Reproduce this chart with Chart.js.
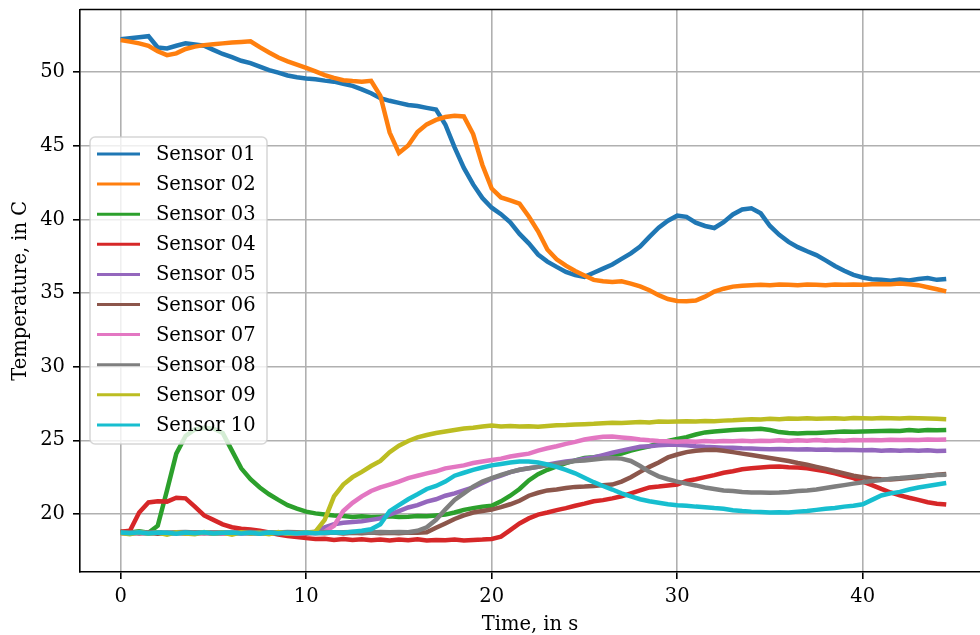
<!DOCTYPE html>
<html>
<head>
<meta charset="utf-8">
<script src="https://cdn.jsdelivr.net/npm/chart.js@4.4.0/dist/chart.umd.min.js"></script>
<style>
    html, body { margin: 0; padding: 0; background: #fff; }
    canvas { display: block; }
</style>
</head>
<body>
<canvas id="graficoSensores" width="980" height="635"></canvas>
<script>
// amostragem a cada 0.5 s, de 0 a 44.5 s
const PASSO = 0.5;
const N_AMOSTRAS = 90;
const tempos = Array.from({ length: N_AMOSTRAS }, (_, i) => i * PASSO);

const nomesSensores = ['Sensor 01', 'Sensor 02', 'Sensor 03', 'Sensor 04', 'Sensor 05',
                       'Sensor 06', 'Sensor 07', 'Sensor 08', 'Sensor 09', 'Sensor 10'];
const cores = ['#1f77b4', '#ff7f0e', '#2ca02c', '#d62728', '#9467bd',
               '#8c564b', '#e377c2', '#7f7f7f', '#bcbd22', '#17becf'];

const ticksX = [0, 10, 20, 30, 40];
const ticksY = [20, 25, 30, 35, 40, 45, 50];

const sensor01 = [
    52.24, 52.31, 52.38, 52.45, 51.68, 51.62, 51.80, 51.96, 51.88, 51.80,
    51.52, 51.24, 51.02, 50.78, 50.62, 50.38, 50.14, 49.97, 49.78, 49.66,
    49.58, 49.52, 49.43, 49.36, 49.22, 49.07, 48.84, 48.57, 48.24, 48.06,
    47.92, 47.78, 47.71, 47.58, 47.46, 46.45, 44.90, 43.50, 42.38, 41.46,
    40.80, 40.36, 39.80, 39.02, 38.38, 37.62, 37.14, 36.78, 36.44, 36.22,
    36.10, 36.38, 36.66, 36.94, 37.32, 37.70, 38.16, 38.82, 39.44, 39.92,
    40.26, 40.18, 39.78, 39.56, 39.42, 39.82, 40.34, 40.68, 40.76, 40.42,
    39.56, 38.96, 38.48, 38.12, 37.84, 37.58, 37.22, 36.84, 36.52, 36.24,
    36.06, 35.94, 35.90, 35.84, 35.92, 35.86, 35.96, 36.02, 35.90, 35.96
];
const sensor02 = [
    52.18, 52.08, 51.96, 51.80, 51.42, 51.16, 51.28, 51.58, 51.74, 51.84,
    51.90, 51.96, 52.02, 52.06, 52.10, 51.70, 51.34, 51.00, 50.74, 50.52,
    50.30, 50.06, 49.80, 49.62, 49.46, 49.40, 49.36, 49.42, 48.40, 45.90,
    44.52, 45.02, 45.94, 46.46, 46.76, 46.96, 47.04, 47.00, 45.80, 43.70,
    42.10, 41.50, 41.30, 41.08, 40.20, 39.20, 37.96, 37.30, 36.86, 36.50,
    36.20, 35.90, 35.80, 35.76, 35.80, 35.64, 35.46, 35.20, 34.86, 34.60,
    34.46, 34.44, 34.50, 34.76, 35.10, 35.30, 35.44, 35.50, 35.54, 35.56,
    35.54, 35.58, 35.56, 35.54, 35.58, 35.56, 35.54, 35.58, 35.56, 35.58,
    35.56, 35.60, 35.62, 35.60, 35.66, 35.60, 35.54, 35.40, 35.26, 35.12
];
const sensor03 = [
    18.80, 18.74, 18.82, 18.72, 19.20, 21.60, 24.10, 25.30, 25.74, 25.86,
    25.80, 25.50, 24.30, 23.10, 22.36, 21.80, 21.34, 20.96, 20.60, 20.36,
    20.16, 20.04, 19.96, 19.90, 19.86, 19.80, 19.84, 19.80, 19.82, 19.84,
    19.80, 19.82, 19.86, 19.84, 19.90, 19.96, 20.10, 20.28, 20.40, 20.50,
    20.56, 20.86, 21.24, 21.70, 22.28, 22.70, 23.00, 23.24, 23.46, 23.64,
    23.80, 23.86, 23.94, 24.00, 24.10, 24.30, 24.46, 24.60, 24.80, 24.96,
    25.10, 25.22, 25.40, 25.54, 25.60, 25.66, 25.70, 25.74, 25.76, 25.78,
    25.70, 25.56, 25.50, 25.46, 25.50, 25.50, 25.54, 25.56, 25.60, 25.58,
    25.60, 25.62, 25.64, 25.66, 25.64, 25.70, 25.66, 25.70, 25.68, 25.70
];
const sensor04 = [
    18.80, 18.86, 20.10, 20.78, 20.86, 20.84, 21.10, 21.06, 20.50, 19.90,
    19.60, 19.30, 19.10, 19.00, 18.94, 18.86, 18.74, 18.60, 18.50, 18.44,
    18.36, 18.30, 18.32, 18.24, 18.30, 18.24, 18.28, 18.22, 18.26, 18.20,
    18.26, 18.22, 18.28, 18.20, 18.24, 18.22, 18.26, 18.20, 18.24, 18.26,
    18.30, 18.46, 18.90, 19.36, 19.70, 19.96, 20.10, 20.26, 20.40, 20.56,
    20.70, 20.86, 20.94, 21.06, 21.20, 21.40, 21.60, 21.80, 21.86, 21.94,
    22.00, 22.24, 22.36, 22.50, 22.64, 22.80, 22.90, 23.04, 23.10, 23.16,
    23.20, 23.22, 23.18, 23.16, 23.10, 23.00, 22.90, 22.76, 22.60, 22.44,
    22.20, 21.96, 21.70, 21.46, 21.26, 21.10, 20.96, 20.80, 20.70, 20.64
];
const sensor05 = [
    18.72, 18.66, 18.74, 18.68, 18.72, 18.66, 18.70, 18.74, 18.68, 18.72,
    18.66, 18.70, 18.74, 18.68, 18.72, 18.66, 18.70, 18.74, 18.68, 18.72,
    18.70, 18.80, 19.10, 19.30, 19.40, 19.46, 19.50, 19.60, 19.70, 19.96,
    20.20, 20.44, 20.60, 20.84, 21.00, 21.24, 21.40, 21.60, 21.80, 22.10,
    22.40, 22.60, 22.84, 23.00, 23.10, 23.20, 23.34, 23.46, 23.56, 23.64,
    23.76, 23.84, 24.00, 24.16, 24.30, 24.44, 24.56, 24.60, 24.66, 24.70,
    24.70, 24.66, 24.60, 24.56, 24.54, 24.50, 24.50, 24.46, 24.44, 24.42,
    24.40, 24.42, 24.40, 24.38, 24.40, 24.36, 24.38, 24.34, 24.36, 24.34,
    24.32, 24.34, 24.30, 24.32, 24.30, 24.32, 24.30, 24.32, 24.28, 24.30
];
const sensor06 = [
    18.70, 18.74, 18.68, 18.72, 18.66, 18.72, 18.70, 18.68, 18.74, 18.70,
    18.72, 18.68, 18.70, 18.74, 18.68, 18.72, 18.70, 18.66, 18.72, 18.70,
    18.68, 18.72, 18.70, 18.74, 18.68, 18.72, 18.70, 18.74, 18.70, 18.72,
    18.70, 18.74, 18.72, 18.76, 19.06, 19.36, 19.66, 19.90, 20.10, 20.20,
    20.30, 20.46, 20.66, 20.90, 21.24, 21.44, 21.60, 21.66, 21.76, 21.84,
    21.86, 21.90, 21.96, 22.00, 22.20, 22.50, 22.86, 23.20, 23.50, 23.84,
    24.04, 24.20, 24.30, 24.34, 24.36, 24.30, 24.20, 24.10, 24.00, 23.90,
    23.80, 23.70, 23.60, 23.46, 23.34, 23.20, 23.06, 22.90, 22.76, 22.60,
    22.50, 22.40, 22.36, 22.34, 22.40, 22.44, 22.50, 22.60, 22.66, 22.72
];
const sensor07 = [
    18.70, 18.66, 18.72, 18.68, 18.74, 18.66, 18.70, 18.72, 18.66, 18.70,
    18.74, 18.68, 18.70, 18.66, 18.72, 18.70, 18.68, 18.74, 18.70, 18.66,
    18.72, 18.70, 18.80, 19.20, 20.20, 20.76, 21.20, 21.56, 21.80, 22.00,
    22.20, 22.44, 22.60, 22.76, 22.90, 23.10, 23.20, 23.30, 23.46, 23.56,
    23.66, 23.76, 23.90, 24.00, 24.10, 24.30, 24.46, 24.60, 24.76, 24.90,
    25.06, 25.16, 25.24, 25.26, 25.20, 25.14, 25.06, 25.00, 24.96, 24.94,
    24.90, 24.94, 24.90, 24.96, 24.92, 24.96, 24.94, 24.98, 24.94, 24.98,
    24.96, 25.00, 24.96, 25.00, 24.98, 25.02, 24.98, 25.00, 24.98, 25.02,
    25.00, 25.02, 25.00, 25.04, 25.02, 25.04, 25.02, 25.06, 25.04, 25.06
];
const sensor08 = [
    18.76, 18.74, 18.78, 18.74, 18.76, 18.72, 18.76, 18.78, 18.74, 18.76,
    18.74, 18.76, 18.72, 18.76, 18.78, 18.74, 18.76, 18.74, 18.78, 18.76,
    18.74, 18.76, 18.78, 18.74, 18.76, 18.78, 18.76, 18.74, 18.78, 18.76,
    18.78, 18.76, 18.86, 19.10, 19.60, 20.30, 20.96, 21.40, 21.86, 22.20,
    22.44, 22.66, 22.84, 23.00, 23.10, 23.20, 23.30, 23.40, 23.50, 23.60,
    23.64, 23.70, 23.76, 23.80, 23.76, 23.60, 23.26, 22.86, 22.56, 22.36,
    22.20, 22.06, 21.94, 21.80, 21.70, 21.60, 21.56, 21.50, 21.46, 21.46,
    21.44, 21.46, 21.50, 21.56, 21.60, 21.66, 21.76, 21.86, 21.96, 22.06,
    22.16, 22.24, 22.30, 22.40, 22.44, 22.50, 22.56, 22.60, 22.64, 22.66
];
const sensor09 = [
    18.70, 18.62, 18.78, 18.66, 18.74, 18.60, 18.76, 18.68, 18.62, 18.78,
    18.66, 18.74, 18.60, 18.76, 18.68, 18.72, 18.62, 18.78, 18.66, 18.70,
    18.74, 18.80, 19.60, 21.20, 22.00, 22.50, 22.86, 23.26, 23.60, 24.20,
    24.64, 24.96, 25.20, 25.36, 25.50, 25.60, 25.70, 25.80, 25.86, 25.94,
    26.00, 25.94, 25.98, 25.94, 25.96, 25.92, 25.98, 26.02, 26.04, 26.08,
    26.10, 26.12, 26.16, 26.20, 26.18, 26.22, 26.24, 26.22, 26.28, 26.26,
    26.28, 26.30, 26.28, 26.32, 26.30, 26.34, 26.36, 26.40, 26.44, 26.42,
    26.46, 26.44, 26.48, 26.46, 26.50, 26.46, 26.48, 26.50, 26.46, 26.52,
    26.50, 26.48, 26.52, 26.50, 26.48, 26.52, 26.50, 26.48, 26.46, 26.44
];
const sensor10 = [
    18.74, 18.70, 18.76, 18.68, 18.74, 18.72, 18.66, 18.74, 18.70, 18.76,
    18.68, 18.72, 18.74, 18.68, 18.72, 18.66, 18.74, 18.70, 18.72, 18.68,
    18.74, 18.70, 18.72, 18.76, 18.72, 18.80, 18.86, 18.96, 19.30, 20.20,
    20.60, 21.00, 21.34, 21.70, 21.90, 22.20, 22.60, 22.80, 23.00, 23.16,
    23.30, 23.40, 23.50, 23.56, 23.56, 23.50, 23.36, 23.20, 23.00, 22.76,
    22.46, 22.16, 21.90, 21.66, 21.40, 21.20, 21.00, 20.86, 20.76, 20.66,
    20.60, 20.56, 20.50, 20.46, 20.40, 20.36, 20.26, 20.20, 20.16, 20.14,
    20.10, 20.12, 20.10, 20.16, 20.20, 20.28, 20.36, 20.40, 20.50, 20.56,
    20.66, 20.96, 21.26, 21.40, 21.50, 21.66, 21.80, 21.90, 22.00, 22.10
];

const series = [sensor01, sensor02, sensor03, sensor04, sensor05,
                sensor06, sensor07, sensor08, sensor09, sensor10];

const FONTE = 'DejaVu Serif';
const TAM_FONTE = 19.5;

// legenda no estilo matplotlib, desenhada por cima das linhas
const legendaPlugin = {
    id: 'legendaSensores',
    afterDatasetsDraw(chart) {
        const ctx = chart.ctx;
        const x0 = 90, y0 = 137, larg = 177, alt = 307;
        ctx.save();
        ctx.beginPath();
        ctx.roundRect(x0, y0, larg, alt, 5);
        ctx.fillStyle = 'rgba(255,255,255,0.8)';
        ctx.fill();
        ctx.lineWidth = 1.5;
        ctx.strokeStyle = 'rgba(204,204,204,0.8)';
        ctx.stroke();

        ctx.font = `${TAM_FONTE}px "${FONTE}"`;
        ctx.textBaseline = 'middle';
        ctx.textAlign = 'left';
        nomesSensores.forEach((nome, i) => {
            const y = 154 + i * 30.1;
            ctx.beginPath();
            ctx.moveTo(97, y);
            ctx.lineTo(140, y);
            ctx.strokeStyle = cores[i];
            ctx.lineWidth = 3;
            ctx.stroke();
            ctx.fillStyle = '#000';
            ctx.fillText(nome, 156, y + 1);
        });
        ctx.restore();
    },
    afterDraw(chart) {
        // borda superior do eixo
        const { ctx, chartArea } = chart;
        ctx.save();
        ctx.beginPath();
        ctx.moveTo(chartArea.left, chartArea.top);
        ctx.lineTo(chartArea.right, chartArea.top);
        ctx.strokeStyle = '#000';
        ctx.lineWidth = 1.6;
        ctx.stroke();
        ctx.restore();
    }
};

function montarGrafico() {
    const datasets = series.map((valores, i) => ({
        label: nomesSensores[i],
        data: valores.map((v, k) => ({ x: tempos[k], y: v })),
        borderColor: cores[i],
        backgroundColor: cores[i],
        borderWidth: 4.5,
        pointRadius: 0,
        tension: 0,
        order: series.length - i
    }));

    const fonteEixo = { family: FONTE, size: TAM_FONTE };

    new Chart(document.getElementById('graficoSensores').getContext('2d'), {
        type: 'line',
        data: { datasets },
        plugins: [legendaPlugin],
        options: {
            responsive: false,
            animation: false,
            devicePixelRatio: 1,
            layout: { padding: { top: 9.5, right: 0, bottom: 0, left: 0 } },
            plugins: { legend: { display: false }, tooltip: { enabled: false } },
            scales: {
                x: {
                    type: 'linear',
                    min: -2.19,
                    max: 46.32,
                    afterBuildTicks: scale => { scale.ticks = ticksX.map(v => ({ value: v })); },
                    afterFit: scale => { scale.height = 63; scale.paddingLeft = 0; scale.paddingRight = 0; },
                    grid: { color: '#b0b0b0', lineWidth: 1.6, tickColor: '#000', tickLength: 7, tickWidth: 1.6 },
                    border: { color: '#000', width: 1.6 },
                    ticks: { color: '#000', font: fonteEixo, padding: 6, maxRotation: 0 },
                    title: { display: true, text: 'Time, in s', color: '#000', font: { ...fonteEixo, lineHeight: 1.05 }, padding: { top: 0, bottom: 0 } }
                },
                y: {
                    type: 'linear',
                    min: 16.06,
                    max: 54.26,
                    afterBuildTicks: scale => { scale.ticks = ticksY.map(v => ({ value: v })); },
                    afterFit: scale => { scale.width = 80; scale.paddingTop = 0; scale.paddingBottom = 0; },
                    grid: { color: '#b0b0b0', lineWidth: 1.6, tickColor: '#000', tickLength: 7, tickWidth: 1.6 },
                    border: { color: '#000', width: 1.6 },
                    ticks: { color: '#000', font: fonteEixo, padding: 8 },
                    title: { display: true, text: 'Temperature, in C', color: '#000', font: { ...fonteEixo, lineHeight: 1.2 }, padding: { top: 9, bottom: 0 } }
                }
            }
        }
    });
}

document.addEventListener('DOMContentLoaded', montarGrafico);
</script>
</body>
</html>
